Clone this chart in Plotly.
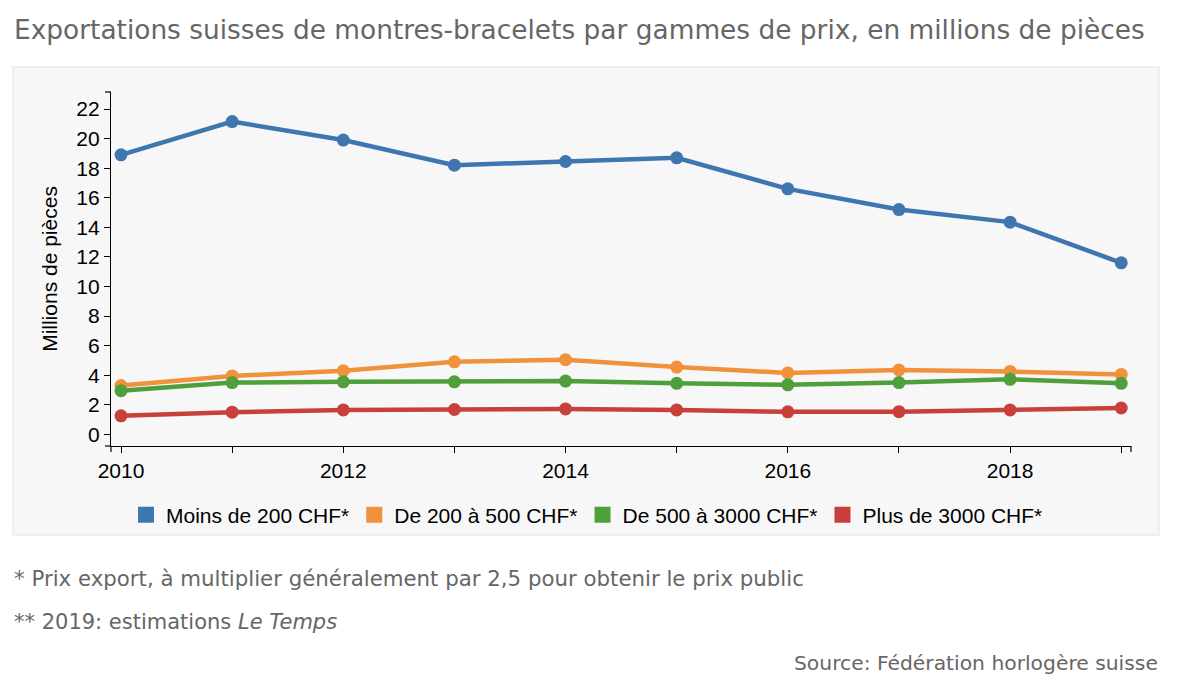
import plotly.graph_objects as go

years = [2010, 2011, 2012, 2013, 2014, 2015, 2016, 2017, 2018, 2019]
moins_200 = [18.9, 21.15, 19.9, 18.2, 18.45, 18.7, 16.6, 15.2, 14.35, 11.6]
de_200_500 = [3.3, 3.95, 4.3, 4.9, 5.05, 4.55, 4.15, 4.35, 4.25, 4.05]
de_500_3000 = [2.95, 3.5, 3.55, 3.55, 3.6, 3.45, 3.35, 3.5, 3.72, 3.45]
plus_3000 = [1.25, 1.5, 1.65, 1.68, 1.72, 1.65, 1.52, 1.53, 1.65, 1.78]

series_names = ["Moins de 200 CHF*", "De 200 à 500 CHF*", "De 500 à 3000 CHF*", "Plus de 3000 CHF*"]
series_values = [moins_200, de_200_500, de_500_3000, plus_3000]
colors = ["#3f76b0", "#f0913c", "#4f9f3c", "#c9403a"]

y_ticks = list(range(0, 23, 2))
x_tickvals = years
x_ticktext = [str(y) if y % 2 == 0 else "" for y in years]

title_text = "Exportations suisses de montres-bracelets par gammes de prix, en millions de pièces"
note1 = "* Prix export, à multiplier généralement par 2,5 pour obtenir le prix public"
note2 = "** 2019: estimations <i>Le Temps</i>"
source = "Source: Fédération horlogère suisse"

OFF = 8  # page body margin
W, H = 1200 - 2 * OFF, 686 - 2 * OFF
L, R, T, B = 111 - OFF, 1131 - OFF, 92 - OFF, 446 - OFF  # plot area in figure px


def px(x):  # x given in screenshot px
    return (x - OFF - L) / (R - L)


def py(y):  # y given in screenshot px
    return (B - (y - OFF)) / (B - T)


fig = go.Figure()
for name, vals, c in zip(series_names, series_values, colors):
    fig.add_trace(go.Scatter(
        x=years, y=vals, mode="lines+markers", name=name,
        line=dict(color=c, width=4.5), marker=dict(color=c, size=13),
        showlegend=False, hoverinfo="x+y+name"))
for name, c in zip(series_names, colors):
    fig.add_trace(go.Scatter(
        x=[None], y=[None], mode="markers", name=name,
        marker=dict(color=c, size=16, symbol="square"), showlegend=True))

axis_font = dict(family="Liberation Sans, Arial, sans-serif", size=21, color="#000")

fig.update_layout(
    width=W, height=H,
    margin=dict(l=L, r=W - R, t=T, b=H - B, pad=0),
    paper_bgcolor="white",
    plot_bgcolor="rgba(0,0,0,0)",
    showlegend=True,
    legend=dict(orientation="h", x=px(587), xanchor="center", y=py(515), yanchor="middle",
                font=dict(family="Liberation Sans, Arial, sans-serif", size=21, color="#000"),
                itemwidth=30, bgcolor="rgba(0,0,0,0)", traceorder="normal"),
    xaxis=dict(range=[2009.91, 2019.088], tickvals=x_tickvals, ticktext=x_ticktext,
               showgrid=False, zeroline=False, showline=True, linecolor="#000", linewidth=1.2,
               ticks="outside", ticklen=6, tickcolor="#000", tickwidth=1.2, tickfont=axis_font),
    yaxis=dict(range=[-0.79, 23.15], tickvals=y_ticks,
               showgrid=False, zeroline=False, showline=True, linecolor="#000", linewidth=1.2,
               ticks="outside", ticklen=6, tickcolor="#000", tickwidth=1.2, tickfont=axis_font,
               title=dict(text="Millions de pièces", font=dict(family="Liberation Sans, Arial, sans-serif", size=21, color="#000"), standoff=12)),
    font=dict(family="Liberation Sans, Arial, sans-serif"),
)

# panel background
fig.add_shape(type="rect", xref="paper", yref="paper",
              x0=px(13), x1=px(1159), y0=py(535), y1=py(67),
              fillcolor="#f7f7f7", line=dict(color="#ebebeb", width=1.5), layer="below")

# outer domain ticks (d3 style)
for xv in (0, 1):
    fig.add_shape(type="line", xref="paper", yref="paper", ysizemode="pixel", yanchor=0,
                  x0=xv, x1=xv, y0=0, y1=-6, line=dict(color="#000", width=1.2))
for yv in (0, 1):
    fig.add_shape(type="line", xref="paper", yref="paper", xsizemode="pixel", xanchor=0,
                  x0=-6, x1=0, y0=yv, y1=yv, line=dict(color="#000", width=1.2))

text_font = "DejaVu Sans, Open Sans, sans-serif"
fig.add_annotation(text=title_text, xref="paper", yref="paper", x=px(12), y=py(30),
                   xanchor="left", yanchor="middle", showarrow=False,
                   font=dict(family=text_font, size=26.4, color="#666"))
fig.add_annotation(text=note1, xref="paper", yref="paper", x=px(12), y=py(578),
                   xanchor="left", yanchor="middle", showarrow=False,
                   font=dict(family=text_font, size=21.3, color="#666"))
fig.add_annotation(text=note2, xref="paper", yref="paper", x=px(12), y=py(622),
                   xanchor="left", yanchor="middle", showarrow=False,
                   font=dict(family=text_font, size=21, color="#666"))
fig.add_annotation(text=source, xref="paper", yref="paper", x=px(1160), y=py(663),
                   xanchor="right", yanchor="middle", showarrow=False,
                   font=dict(family=text_font, size=20.3, color="#666"))

fig.write_html("out.html")
